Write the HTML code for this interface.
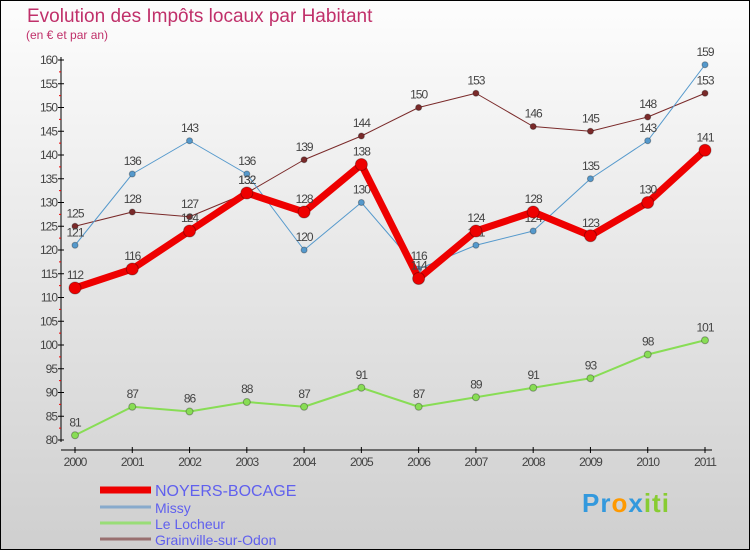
<!DOCTYPE html>
<html><head><meta charset="utf-8"><style>
body{margin:0}
svg{display:block;font-family:"Liberation Sans",sans-serif}
</style></head><body>
<svg id="c" width="750" height="550">
<defs><linearGradient id="bg" x1="0" y1="0" x2="0" y2="1"><stop offset="0" stop-color="#fdfdfd"/><stop offset="1" stop-color="#cfcfcf"/></linearGradient></defs>
<rect x="0.5" y="0.5" width="749" height="549" fill="url(#bg)" stroke="#000"/>
<text x="27" y="22" font-size="19" fill="#c0306a">Evolution des Impôts locaux par Habitant</text>
<text x="26" y="39" font-size="12" fill="#c0306a">(en € et par an)</text>
<g id="axes"></g><g id="series"></g><g id="legend"></g>
</svg>
<script>
const years=["2000","2001","2002","2003","2004","2005","2006","2007","2008","2009","2010","2011"];
const noyers=[112,116,124,132,128,138,114,124,128,123,130,141];
const missy=[121,136,143,136,120,130,116,121,124,135,143,159];
const locheur=[81,87,86,88,87,91,87,89,91,93,98,101];
const grainville=[125,128,127,132,139,144,150,153,146,145,148,153];
const yTicks=[80,85,90,95,100,105,110,115,120,125,130,135,140,145,150,155,160];
const NS="http://www.w3.org/2000/svg";
const X=i=>75+i*(630/11);
const Y=v=>440-(v-80)*4.75;
function mk(p,t,a){const e=document.createElementNS(NS,t);for(const k in a)e.setAttribute(k,a[k]);p.appendChild(e);return e;}
const ax=document.getElementById('axes');
const yl=mk(ax,'line',{x1:61,y1:57,x2:61,y2:442,stroke:'#000'});


const xl=mk(ax,'line',{x1:61,y1:450,x2:712,y2:450,stroke:'#000'});


yTicks.forEach(v=>{
 mk(ax,'line',{x1:58,y1:Y(v),x2:64,y2:Y(v),stroke:'#000'});
 if(v<160)mk(ax,'line',{x1:59,y1:Y(v+2.5),x2:61,y2:Y(v+2.5),stroke:'#e00'});
 const t=mk(ax,'text',{x:57,y:Y(v)+4,'font-size':12,'text-anchor':'end',fill:'#444','letter-spacing':'-1'});
 t.textContent=v;
 
 
});
years.forEach((y,i)=>{
 mk(ax,'line',{x1:X(i),y1:447,x2:X(i),y2:453,stroke:'#000'});
 const t=mk(ax,'text',{x:X(i),y:466,'font-size':12,'text-anchor':'middle',fill:'#444','letter-spacing':'-1'});
 t.textContent=y;
 
 
});
const sg=document.getElementById('series');
function draw(vals,color,w,r,name,labelBelow){
 const g=mk(sg,'g',{});
 
 
 const pl=mk(g,'polyline',{points:vals.map((v,i)=>X(i)+','+Y(v)).join(' '),fill:'none',stroke:color,'stroke-width':w,'stroke-linejoin':'round'});
 
 
 vals.forEach((v,i)=>{
  const c=mk(g,'circle',{cx:X(i),cy:Y(v),r:r,fill:color,stroke:'rgba(0,0,0,0.3)','stroke-width':1});
  
  
  const t=mk(g,'text',{x:X(i),y:Y(v)-9,'font-size':12,'text-anchor':'middle',fill:'#444','letter-spacing':'-1'});
  t.textContent=v;
  
  
 });
}
draw(locheur,'#88dd55',2,3.5,'le-locheur');
draw(grainville,'#7a2a2a',1,3,'grainville');
draw(missy,'#5599cc',1,3,'missy');
draw(noyers,'#ee0000',7,6,'noyers-bocage');
const lg=document.getElementById('legend');
const items=[["NOYERS-BOCAGE","#ee0000",7,490,16],["Missy","#88aacc",3,507,14],["Le Locheur","#99dd77",3,523,14],["Grainville-sur-Odon","#997070",3,539,14]];
items.forEach(it=>{
 const g=mk(lg,'g',{});
 
 
 mk(g,'line',{x1:100,y1:it[3],x2:151,y2:it[3],stroke:it[1],'stroke-width':it[2]});
 const t=mk(g,'text',{x:155,y:it[3]+6,'font-size':it[4],fill:'#6060ee'});
 t.textContent=it[0];
});
</script>
<div style="position:absolute;left:582px;top:488px;font:bold 26px 'Liberation Sans',sans-serif;letter-spacing:1px"><span style="color:#3399dd">Pr</span><span style="color:#ff9900">o</span><span style="color:#3399dd">x</span><span style="color:#88cc33">iti</span></div>
</body></html>
